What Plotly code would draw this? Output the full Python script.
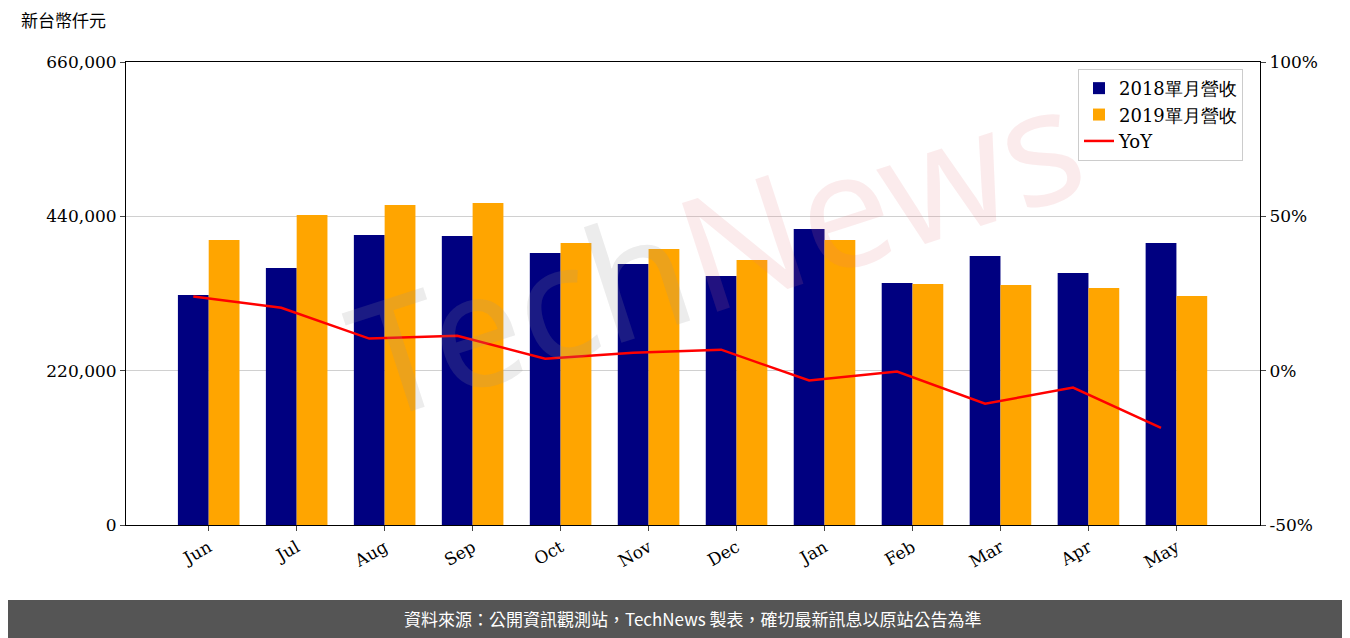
import plotly.graph_objects as go

months = ['Jun', 'Jul', 'Aug', 'Sep', 'Oct', 'Nov', 'Dec', 'Jan', 'Feb', 'Mar', 'Apr', 'May']
rev_2018 = [327900, 366300, 413400, 412000, 387700, 372000, 355000, 422000, 345000, 383500, 359200, 402000]
rev_2019 = [406300, 441900, 456200, 459000, 402000, 393400, 377800, 406300, 343600, 342000, 337800, 326400]
yoy = [24.0, 20.4, 10.4, 11.3, 3.9, 5.8, 6.8, -3.2, -0.3, -10.7, -5.5, -18.5]

left_ticks = [0, 220000, 440000, 660000]
right_ticks = [-50, 0, 50, 100]

idx = list(range(len(months)))
w = 0.35
font = "DejaVu Serif"

fig = go.Figure()
fig.add_trace(go.Bar(x=[i - w / 2 for i in idx], y=rev_2018, width=w, name='2018單月營收',
                     marker=dict(color='#000080', line_width=0)))
fig.add_trace(go.Bar(x=[i + w / 2 for i in idx], y=rev_2019, width=w, name='2019單月營收',
                     marker=dict(color='#FFA500', line_width=0)))
fig.add_trace(go.Scatter(x=[i - w / 2 for i in idx], y=yoy, name='YoY', mode='lines',
                         line=dict(color='red', width=2.5), yaxis='y2'))

# page has an 8px body margin, so the figure is sized to end at the window edge
fig.update_layout(
    width=1342, height=630,
    margin=dict(l=118, r=90, t=54, b=113, autoexpand=False),
    plot_bgcolor='white', paper_bgcolor='white',
    font=dict(family=font, size=17, color='black'),
    showlegend=True,
    legend=dict(x=0.985, y=0.985, xanchor='right', yanchor='top', bordercolor='#cccccc',
                borderwidth=1, bgcolor='rgba(255,255,255,0.8)', font=dict(size=18)),
    xaxis=dict(range=[-0.94, 11.95], tickvals=idx, ticktext=months, tickangle=-30,
               showline=True, linecolor='black', mirror=True, ticks='outside',
               showgrid=False, zeroline=False),
    yaxis=dict(range=[0, 660000], tickvals=left_ticks,
               ticktext=[f'{v:,}' for v in left_ticks], showline=True, linecolor='black',
               ticks='outside', showgrid=True, gridcolor='#d0d0d0', zeroline=False),
    yaxis2=dict(range=[-50, 100], tickvals=right_ticks, ticktext=[f'{v}%' for v in right_ticks],
                overlaying='y', side='right', showline=True, linecolor='black',
                ticks='outside', showgrid=False, zeroline=False),
)

fig.add_annotation(text='新台幣仟元', xref='paper', yref='paper', x=-0.094, y=1.06,
                   xanchor='left', yanchor='bottom', showarrow=False,
                   font=dict(family='Noto Sans CJK TC', size=17))

# watermark
fig.add_annotation(text="<span style='color:rgba(150,150,150,0.18)'>Tech</span>"
                        "<span style='color:rgba(230,120,130,0.15)'>News</span>",
                   xref='paper', yref='paper', x=0.52, y=0.6, showarrow=False,
                   textangle=-18, font=dict(family='Noto Sans', size=160))

# footer bar
fig.add_shape(type='rect', xref='paper', yref='paper', x0=-0.12, x1=1.09,
              y0=-0.26, y1=-0.162, fillcolor='#555555', line_width=0, layer='below')
fig.add_annotation(text='資料來源：公開資訊觀測站，TechNews 製表，確切最新訊息以原站公告為準',
                   xref='paper', yref='paper', x=0.5, y=-0.203, xanchor='center',
                   yanchor='middle', showarrow=False,
                   font=dict(family='Noto Sans CJK TC', size=17, color='white'))

fig.write_html("out.html")
